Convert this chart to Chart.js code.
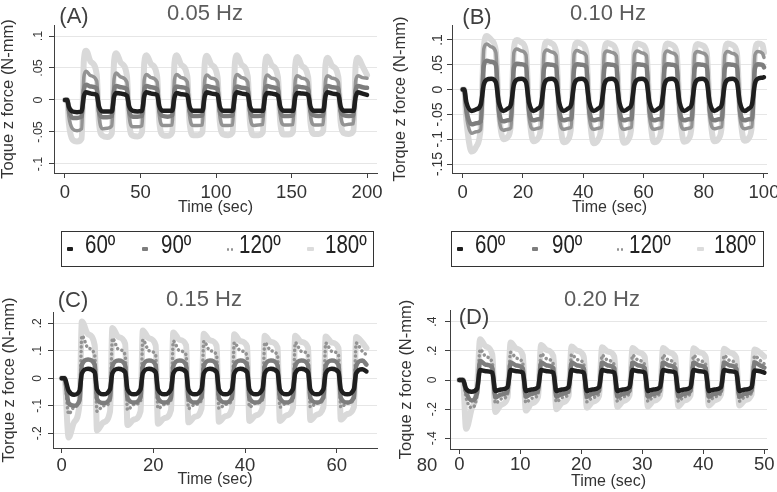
<!DOCTYPE html>
<html>
<head>
<meta charset="utf-8">
<script src="https://cdn.jsdelivr.net/npm/chart.js@4.4.1/dist/chart.umd.min.js"></script>
<style>
    body { margin: 0; background: #fff; width: 777px; height: 492px; position: relative; overflow: hidden;
           font-family: "Liberation Sans", Arial, sans-serif; }
    canvas { position: absolute; }
    .t { position: absolute; white-space: nowrap; line-height: 1; transform: translate(-50%, -50%); }
    .ttl { font-size: 22px; color: #5c5c5c; }
    .lab { font-size: 22px; color: #404040; }
    .lgbox { position: absolute; border: 1px solid #333; box-sizing: border-box; }
    .lgtxt { position: absolute; font-size: 25px; line-height: 1; color: #222; transform: scaleX(0.82); transform-origin: left center; white-space: nowrap; }
    .mk { position: absolute; }
</style>
</head>
<body>

<canvas id="chartA" width="388" height="226" style="left:0;top:0"></canvas>
<canvas id="chartB" width="387" height="226" style="left:390px;top:0"></canvas>
<canvas id="chartC" width="388" height="222" style="left:0;top:270px"></canvas>
<canvas id="chartD" width="387" height="222" style="left:390px;top:270px"></canvas>

<div class="t lab" style="left:74px;top:16px">(A)</div>
<div class="t ttl" style="left:205px;top:13px">0.05 Hz</div>
<div class="t lab" style="left:477px;top:17px">(B)</div>
<div class="t ttl" style="left:608px;top:13px">0.10 Hz</div>
<div class="t lab" style="left:73px;top:300px">(C)</div>
<div class="t ttl" style="left:204px;top:299px">0.15 Hz</div>
<div class="t lab" style="left:474px;top:317px">(D)</div>
<div class="t ttl" style="left:602px;top:299px">0.20 Hz</div>
<div class="t" style="left:427px;top:465px;font-size:18.5px;color:#333">80</div>

<div class="lgbox" style="left:61px;top:231px;width:313px;height:36px"></div>
<div class="lgbox" style="left:451px;top:231px;width:313px;height:36px"></div>
<div id="legends"></div>

<script>
// ---- Panel A: 0.05 Hz ----
const timeA = [0, 1.5, 2.5, 5, 8,
    11, 12.5, 14, 17, 21, 22.5, 25, 28,
    31, 32.5, 34, 37, 41, 42.5, 45, 48,
    51, 52.5, 54, 57, 61, 62.5, 65, 68,
    71, 72.5, 74, 77, 81, 82.5, 85, 88,
    91, 92.5, 94, 97, 101, 102.5, 105, 108,
    111, 112.5, 114, 117, 121, 122.5, 125, 128,
    131, 132.5, 134, 137, 141, 142.5, 145, 148,
    151, 152.5, 154, 157, 161, 162.5, 165, 168,
    171, 172.5, 174, 177, 181, 182.5, 185, 188,
    191, 192.5, 194, 197, 200];
const a60 = [0, 0, -.01, -.018, -.019,
    -.018, .006, .012, .01, .008, -.01, -.018, -.018,
    -.018, .005, .011, .01, .007, -.01, -.017, -.018,
    -.017, .006, .012, .01, .008, -.01, -.017, -.017,
    -.017, .004, .011, .009, .007, -.01, -.017, -.017,
    -.017, .005, .012, .01, .008, -.01, -.017, -.017,
    -.017, .006, .012, .01, .008, -.01, -.017, -.017,
    -.017, .005, .011, .01, .007, -.01, -.017, -.017,
    -.017, .005, .011, .01, .008, -.01, -.017, -.017,
    -.017, .006, .012, .01, .008, -.01, -.017, -.017,
    -.017, .005, .012, .01, .008];
const a90 = [0, 0, -.015, -.028, -.028,
    -.026, .016, .024, .021, .018, -.018, -.027, -.027,
    -.025, .015, .022, .02, .017, -.018, -.026, -.026,
    -.025, .015, .022, .02, .017, -.017, -.025, -.026,
    -.024, .014, .021, .02, .017, -.017, -.025, -.025,
    -.024, .015, .022, .02, .017, -.018, -.025, -.025,
    -.024, .014, .021, .019, .017, -.017, -.025, -.025,
    -.024, .015, .022, .02, .017, -.017, -.025, -.025,
    -.024, .014, .021, .02, .017, -.017, -.024, -.025,
    -.024, .015, .022, .02, .018, -.017, -.024, -.025,
    -.024, .015, .022, .02, .019];
const a120 = [0, 0, -.025, -.045, -.048,
    -.045, .036, .045, .038, .03, -.025, -.045, -.044,
    -.04, .033, .042, .036, .028, -.026, -.042, -.042,
    -.04, .032, .04, .035, .028, -.025, -.04, -.04,
    -.039, .032, .04, .035, .028, -.025, -.04, -.04,
    -.039, .031, .039, .034, .028, -.025, -.04, -.04,
    -.039, .032, .04, .035, .028, -.025, -.04, -.039,
    -.038, .031, .039, .034, .028, -.024, -.039, -.039,
    -.038, .031, .038, .034, .028, -.024, -.039, -.039,
    -.038, .03, .038, .034, .028, -.024, -.039, -.038,
    -.037, .03, .038, .035, .034];
const a180 = [0, 0, -.035, -.062, -.065,
    -.06, .062, .077, .06, .04, -.035, -.056, -.058,
    -.052, .06, .073, .058, .038, -.036, -.056, -.057,
    -.05, .058, .07, .056, .037, -.035, -.055, -.056,
    -.05, .058, .07, .055, .037, -.035, -.055, -.055,
    -.05, .056, .069, .055, .036, -.034, -.054, -.055,
    -.05, .057, .07, .055, .037, -.035, -.055, -.055,
    -.05, .056, .068, .054, .036, -.034, -.054, -.054,
    -.049, .055, .067, .053, .036, -.034, -.053, -.053,
    -.048, .055, .066, .053, .036, -.034, -.052, -.053,
    -.048, .055, .066, .053, .039];

// ---- Panel B: 0.10 Hz ----
const timeB = [0, 0.5, 1.2, 3, 4.5,
    6, 7, 8, 9.5, 11, 12, 13.5, 15,
    16, 17, 18, 19.5, 21, 22, 23.5, 25,
    26, 27, 28, 29.5, 31, 32, 33.5, 35,
    36, 37, 38, 39.5, 41, 42, 43.5, 45,
    46, 47, 48, 49.5, 51, 52, 53.5, 55,
    56, 57, 58, 59.5, 61, 62, 63.5, 65,
    66, 67, 68, 69.5, 71, 72, 73.5, 75,
    76, 77, 78, 79.5, 81, 82, 83.5, 85,
    86, 87, 88, 89.5, 91, 92, 93.5, 95,
    96, 97, 98, 99.5, 100];
const b60 = [0, 0, -.025, -.043, -.04,
    -.03, .01, .02, .022, .015, -.026, -.043, -.038,
    -.03, .01, .02, .022, .015, -.026, -.043, -.038,
    -.03, .01, .02, .022, .015, -.026, -.043, -.038,
    -.03, .01, .02, .022, .015, -.026, -.043, -.038,
    -.03, .01, .02, .022, .015, -.026, -.043, -.038,
    -.03, .01, .02, .022, .015, -.026, -.043, -.038,
    -.03, .01, .02, .022, .015, -.026, -.043, -.038,
    -.03, .01, .02, .022, .015, -.026, -.043, -.038,
    -.03, .01, .02, .022, .015, -.026, -.043, -.038,
    -.03, .012, .022, .024, .025];
const b90 = [0, 0, -.04, -.07, -.068,
    -.064, .048, .058, .056, .05, -.042, -.064, -.062,
    -.06, .044, .052, .051, .047, -.042, -.062, -.06,
    -.06, .043, .051, .05, .046, -.042, -.062, -.06,
    -.06, .043, .051, .05, .046, -.042, -.062, -.06,
    -.06, .043, .051, .05, .046, -.042, -.062, -.06,
    -.06, .043, .051, .05, .046, -.042, -.062, -.06,
    -.06, .043, .051, .05, .046, -.042, -.062, -.06,
    -.06, .043, .051, .05, .046, -.042, -.062, -.06,
    -.06, .043, .051, .05, .046, -.042, -.062, -.06,
    -.06, .043, .051, .05, .045];
const b120 = [0, 0, -.05, -.088, -.085,
    -.08, .082, .092, .086, .075, -.055, -.082, -.08,
    -.077, .075, .082, .078, .07, -.055, -.08, -.078,
    -.076, .073, .08, .076, .069, -.055, -.08, -.078,
    -.076, .072, .079, .075, .068, -.055, -.08, -.078,
    -.076, .072, .078, .075, .068, -.055, -.08, -.078,
    -.076, .071, .078, .074, .068, -.055, -.08, -.078,
    -.076, .071, .078, .074, .067, -.055, -.08, -.078,
    -.075, .071, .077, .074, .067, -.055, -.079, -.077,
    -.075, .07, .077, .073, .067, -.055, -.079, -.077,
    -.075, .07, .077, .073, .065];
const b180 = [0, 0, -.06, -.125, -.115,
    -.075, .085, .108, .1, .078, -.04, -.1, -.095,
    -.07, .082, .1, .095, .077, -.04, -.104, -.098,
    -.072, .08, .097, .093, .076, -.04, -.106, -.1,
    -.073, .078, .095, .092, .075, -.04, -.108, -.1,
    -.073, .077, .094, .091, .075, -.04, -.107, -.1,
    -.072, .076, .093, .09, .075, -.04, -.106, -.1,
    -.072, .076, .093, .09, .074, -.04, -.105, -.099,
    -.071, .075, .092, .089, .074, -.04, -.104, -.098,
    -.071, .075, .093, .09, .074, -.04, -.103, -.097,
    -.07, .075, .093, .09, .075];

// ---- Panel C: 0.15 Hz ----
const timeC = [0, 0.6, 1.5, 2.7, 3.9,
    4.4, 5.75, 7.2, 7.7, 9.1, 10.55,
    11.05, 12.4, 13.85, 14.35, 15.75, 17.2,
    17.7, 19.05, 20.5, 21.0, 22.4, 23.85,
    24.35, 25.7, 27.15, 27.65, 29.05, 30.5,
    31.0, 32.35, 33.8, 34.3, 35.7, 37.15,
    37.65, 39.0, 40.45, 40.95, 42.35, 43.8,
    44.3, 45.65, 47.1, 47.6, 49.0, 50.45,
    50.95, 52.3, 53.75, 54.25, 55.65, 57.1,
    57.6, 58.95, 60.4, 60.9, 62.3, 63.75,
    64.25, 65.6, 66.5];
const c60 = [0, 0, -.045, -.06, -.045,
    .018, .035, .022, -.04, -.058, -.04,
    .018, .035, .022, -.04, -.058, -.04,
    .018, .035, .022, -.04, -.058, -.04,
    .018, .035, .022, -.04, -.058, -.04,
    .018, .035, .022, -.04, -.058, -.04,
    .018, .035, .022, -.04, -.058, -.04,
    .018, .035, .022, -.04, -.058, -.04,
    .018, .035, .022, -.04, -.058, -.04,
    .018, .035, .022, -.04, -.058, -.04,
    .018, .033, .025];
const c90 = [0, 0, -.09, -.1, -.08,
    .05, .068, .05, -.075, -.09, -.072,
    .045, .065, .048, -.072, -.088, -.07,
    .045, .065, .048, -.072, -.088, -.07,
    .045, .065, .048, -.072, -.088, -.07,
    .045, .065, .048, -.072, -.088, -.07,
    .045, .065, .048, -.072, -.088, -.07,
    .045, .065, .048, -.072, -.088, -.07,
    .045, .065, .048, -.072, -.088, -.07,
    .045, .065, .048, -.072, -.088, -.07,
    .045, .065, .05];
const c120 = [0, 0, -.13, -.105, -.08,
    .155, .11, .085, -.12, -.1, -.085,
    .145, .105, .085, -.115, -.095, -.085,
    .14, .1, .085, -.11, -.095, -.08,
    .135, .1, .085, -.11, -.095, -.08,
    .135, .1, .085, -.11, -.095, -.08,
    .13, .1, .083, -.105, -.09, -.08,
    .13, .1, .083, -.105, -.09, -.08,
    .13, .098, .083, -.105, -.09, -.078,
    .128, .098, .083, -.105, -.09, -.078,
    .128, .098, .085];
const c180 = [0, 0, -.215, -.16, -.09,
    .207, .16, .12, -.19, -.16, -.12,
    .183, .15, .125, -.17, -.15, -.12,
    .174, .145, .12, -.165, -.145, -.115,
    .167, .14, .12, -.16, -.14, -.11,
    .162, .138, .118, -.158, -.138, -.11,
    .16, .135, .115, -.155, -.135, -.108,
    .155, .132, .112, -.155, -.135, -.108,
    .155, .132, .112, -.152, -.132, -.105,
    .152, .13, .11, -.15, -.13, -.105,
    .15, .13, .11];

// ---- Panel D: 0.20 Hz ----
const timeD = [0, 0.6, 1.1, 2.0, 2.9,
    3.4, 4.35, 5.4, 5.9, 6.85, 7.9,
    8.4, 9.35, 10.4, 10.9, 11.85, 12.9,
    13.4, 14.35, 15.4, 15.9, 16.85, 17.9,
    18.4, 19.35, 20.4, 20.9, 21.85, 22.9,
    23.4, 24.35, 25.4, 25.9, 26.85, 27.9,
    28.4, 29.35, 30.4, 30.9, 31.85, 32.9,
    33.4, 34.35, 35.4, 35.9, 36.85, 37.9,
    38.4, 39.35, 40.4, 40.9, 41.85, 42.9,
    43.4, 44.35, 45.4, 45.9, 46.85, 47.9,
    48.4, 49.35, 50.0];
const d60 = [0, 0, -.06, -.08, -.06,
    .068, .06, .05, -.075, -.065, -.05,
    .068, .06, .05, -.075, -.065, -.05,
    .068, .06, .05, -.075, -.065, -.05,
    .068, .06, .05, -.075, -.065, -.05,
    .068, .06, .05, -.075, -.065, -.05,
    .068, .06, .05, -.075, -.065, -.05,
    .068, .06, .05, -.075, -.065, -.05,
    .068, .06, .05, -.075, -.065, -.05,
    .068, .06, .05, -.075, -.065, -.05,
    .065, .06, .05];
const d90 = [0, 0, -.08, -.14, -.09,
    .13, .105, .085, -.12, -.1, -.08,
    .12, .1, .08, -.115, -.095, -.075,
    .12, .1, .08, -.115, -.095, -.075,
    .12, .1, .08, -.115, -.095, -.075,
    .12, .1, .08, -.115, -.095, -.075,
    .12, .1, .08, -.115, -.095, -.075,
    .12, .1, .08, -.115, -.095, -.075,
    .12, .1, .08, -.115, -.095, -.075,
    .12, .1, .08, -.115, -.095, -.075,
    .12, .1, .085];
const d120 = [0, 0, -.12, -.19, -.1,
    .21, .16, .12, -.16, -.13, -.1,
    .19, .15, .115, -.155, -.125, -.1,
    .18, .145, .11, -.15, -.12, -.095,
    .175, .14, .11, -.15, -.12, -.095,
    .17, .135, .105, -.145, -.115, -.09,
    .17, .135, .105, -.145, -.115, -.09,
    .17, .135, .105, -.145, -.115, -.09,
    .168, .133, .105, -.145, -.115, -.09,
    .168, .133, .105, -.145, -.115, -.09,
    .165, .133, .11];
const d180 = [0, 0, -.335, -.2, -.06,
    .28, .23, .175, -.22, -.17, -.12,
    .257, .215, .17, -.21, -.16, -.115,
    .24, .205, .165, -.2, -.155, -.11,
    .23, .2, .16, -.19, -.15, -.11,
    .225, .195, .16, -.185, -.145, -.105,
    .22, .19, .158, -.182, -.142, -.105,
    .22, .19, .158, -.18, -.14, -.105,
    .218, .19, .155, -.175, -.14, -.1,
    .215, .188, .155, -.175, -.138, -.1,
    .21, .185, .16];

// tick labels
const ticksXA = [0, 50, 100, 150, 200];
const ticksXB = [0, 20, 40, 60, 80, 100];
const ticksXC = [0, 20, 40, 60];
const ticksXD = [0, 10, 20, 30, 40, 50];
const ticksYA = [-.1, -.05, 0, .05, .1];
const ticksYB = [-.15, -.1, -.05, 0, .05, .1];
const ticksYC = [-.2, -.1, 0, .1, .2];
const ticksYD = [-.4, -.2, 0, .2, .4];

const seriesNames = ['60º', '90º', '120º', '180º'];
const FONT = '"Liberation Sans", Arial, sans-serif';

function stataNum(v) {
    // Stata style: .05 instead of 0.05
    var s = (+Number(v).toFixed(3)).toString();
    return s.replace(/^(-?)0\./, '$1.');
}

function drawPanel(id, times, s60, s90, s120, s180, o) {
    const pts = arr => arr.map((v, i) => ({x: times[i], y: v}));
    const common = {pointRadius: 0, cubicInterpolationMode: 'monotone', borderJoinStyle: 'round', borderCapStyle: 'round', fill: false};
    new Chart(document.getElementById(id), {
        type: 'line',
        data: {
            datasets: [
                Object.assign({label: seriesNames[0], data: pts(s60), borderColor: '#1e1e1e', borderWidth: 4.5}, common),
                Object.assign({label: seriesNames[1], data: pts(s90), borderColor: '#7d7d7d', borderWidth: 4.5}, common),
                Object.assign({label: seriesNames[2], data: pts(s120), borderColor: '#939393', borderWidth: o.dots ? 3.5 : 3.5,
                               borderDash: o.dots ? [0.1, 4.5] : []}, common),
                Object.assign({label: seriesNames[3], data: pts(s180), borderColor: '#d9d9d9', borderWidth: 6}, common)
            ]
        },
        options: {
            responsive: false,
            animation: false,
            devicePixelRatio: 1,
            layout: {padding: {left: 0, top: o.top, right: o.right, bottom: 0}},
            plugins: {legend: {display: false}, tooltip: {enabled: false}},
            scales: {
                x: {
                    type: 'linear', min: o.xmin, max: o.xmax,
                    afterBuildTicks: s => { s.ticks = o.xticks.map(v => ({value: v})); },
                    afterFit: s => { s.height = o.xh; s.paddingLeft = 0; s.paddingRight = 0; },
                    grid: {drawOnChartArea: false, tickLength: 5, tickColor: '#404040', lineWidth: 1},
                    border: {color: '#404040', width: 1},
                    ticks: {autoSkip: false, maxRotation: 0, color: '#333', padding: o.xpad,
                             font: {size: 18.5, family: FONT}},
                    title: {display: true, text: 'Time (sec)', color: '#333',
                            font: {size: 16, family: FONT, lineHeight: 1}, padding: {top: 0, bottom: o.xtb}}
                },
                y: {
                    type: 'linear', min: o.ymin, max: o.ymax,
                    afterBuildTicks: s => { s.ticks = o.yticks.map(v => ({value: v})); },
                    afterFit: s => { s.width = o.yw; s.paddingTop = 0; s.paddingBottom = 0; },
                    grid: {color: '#e6e6e6', tickLength: 5, tickColor: '#404040', lineWidth: 1},
                    border: {color: '#404040', width: 1},
                    ticks: {autoSkip: false, minRotation: 90, maxRotation: 90, crossAlign: 'center',
                            padding: o.ypad, color: '#333', font: {size: o.yfs, family: FONT},
                            callback: v => stataNum(v)},
                    title: {display: true, text: o.ytitle, color: '#333',
                            font: {size: 16.5, family: FONT, lineHeight: 1}, padding: {top: o.ytp, bottom: 0}}
                }
            }
        }
    });
}

drawPanel('chartA', timeA, a60, a90, a120, a180, {
    top: 25, right: 11, xh: 53, yw: 54, xmin: -7.28, xmax: 206.6, ymin: -.1141, ymax: .1172,
    xticks: ticksXA, yticks: ticksYA, xpad: 4, xtb: 10, ypad: -0.8, yfs: 12.5, ytp: 0,
    ytitle: 'Toque z force (N-mm)', dots: false
});
drawPanel('chartB', timeB, b60, b90, b120, b180, {
    top: 25, right: 10, xh: 53, yw: 62, xmin: -3.55, xmax: 101, ymin: -.1681, ymax: .1302,
    xticks: ticksXB, yticks: ticksYB, xpad: 3.4, xtb: 10, ypad: -3, yfs: 14, ytp: 1.75,
    ytitle: 'Torque z force (N-mm)', dots: false
});
drawPanel('chartC', timeC, c60, c90, c120, c180, {
    top: 42, right: 11, xh: 44, yw: 53, xmin: -1.9, xmax: 68.8, ymin: -.2535, ymax: .2411,
    xticks: ticksXC, yticks: ticksYC, xpad: 1.4, xtb: 4, ypad: 3, yfs: 12, ytp: 0.75,
    ytitle: 'Torque z force (N-mm)', dots: true
});
drawPanel('chartD', timeD, d60, d90, d120, d180, {
    top: 40, right: 10, xh: 43, yw: 60, xmin: -1.53, xmax: 50.44, ymin: -.4734, ymax: .4803,
    xticks: ticksXD, yticks: ticksYD, xpad: 0, xtb: 2, ypad: 5, yfs: 12, ytp: 8,
    ytitle: 'Toque z force (N-mm)', dots: true
});

// legends (one under each top panel)
function drawLegend(markX, textX) {
    const host = document.getElementById('legends');
    const colors = ['#1e1e1e', '#7d7d7d', '#939393', '#dcdcdc'];
    seriesNames.forEach(function (name, i) {
        if (i === 2) {
            [0, 4].forEach(function (dx) {
                const d = document.createElement('div');
                d.className = 'mk';
                d.style.cssText = 'left:' + (markX[i] + dx) + 'px;top:248px;width:2.5px;height:2.5px;border-radius:50%;background:' + colors[i];
                host.appendChild(d);
            });
        } else {
            const m = document.createElement('div');
            m.className = 'mk';
            m.style.cssText = 'left:' + markX[i] + 'px;top:247px;width:6.5px;height:' + (i === 0 ? 4 : 3.5) + 'px;border-radius:1px;background:' + colors[i];
            host.appendChild(m);
        }
        const t = document.createElement('div');
        t.className = 'lgtxt';
        t.style.left = textX[i] + 'px';
        t.style.top = '232px';
        t.textContent = name;
        host.appendChild(t);
    });
}
drawLegend([66.5, 141.7, 226.7, 307], [85, 161, 239, 325]);
drawLegend([456.5, 531.7, 616.7, 697], [475, 552, 629, 714]);
</script>
</body>
</html>
